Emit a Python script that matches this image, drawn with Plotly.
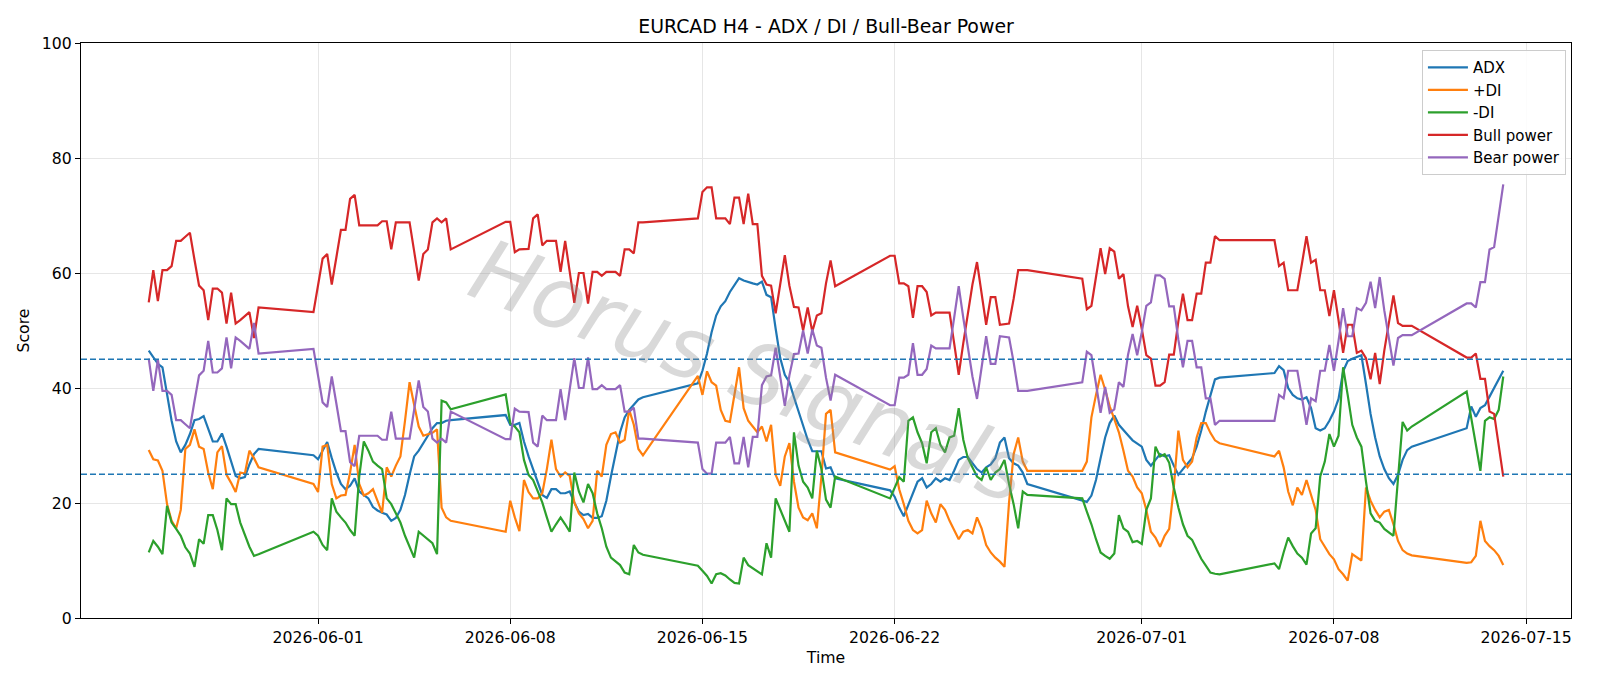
import pandas as pd
import plotly.graph_objects as go

# ---------------- data (H4 bars, weekend gaps) ----------------
all_times = pd.date_range("2026-05-25 20:00", "2026-07-14 04:00", freq="4h")
weekend = (all_times.dayofweek == 5) | ((all_times.dayofweek == 6) & (all_times.hour < 20))
times = all_times[~weekend]

adx = [
    # week 1
    46.5, 45.3, 44.2, 43.6, 38.8, 34.3, 30.7, 28.8, 30.1, 32.0, 34.4, 34.6, 35.1, 33.0, 30.7, 30.7, 32.1, 29.8, 27.2, 24.7, 24.3, 24.5, 26.7, 28.5, 29.4,
    # week 2
    28.3, 27.6, 29.2, 30.6, 27.8, 25.3, 23.3, 22.4, 23.0, 24.3, 22.0, 21.4, 20.8, 19.3, 18.7, 18.3, 18.0, 16.9, 17.4, 18.8, 21.4, 24.9, 28.1, 29.1, 30.3, 31.7, 33.0, 33.9, 33.9, 34.3, 34.4,
    # week 3
    35.3, 33.6, 33.6, 33.9, 30.7, 28.1, 25.9, 23.7, 21.4, 20.9, 22.4, 22.4, 21.7, 21.7, 22.0, 20.1, 18.5, 17.9, 18.1, 17.4, 17.4, 17.7, 20.4, 24.6, 28.8, 32.3, 34.9, 36.2, 37.1, 38.0, 38.4,
    # week 4
    40.8, 43.0, 46.0, 49.7, 52.6, 54.2, 55.1, 56.7, 58.0, 59.1, 58.7, 58.4, 58.2, 58.0, 58.5, 56.2, 55.8, 50.3, 45.2, 42.3, 41.0, 38.4, 35.9, 33.3, 31.0, 29.0, 29.0, 29.0, 26.0, 26.2, 24.3,
    # week 5
    22.2, 21.1, 19.2, 17.7, 19.8, 21.7, 23.7, 24.3, 22.7, 23.3, 24.3, 23.7, 24.3, 24.0, 25.6, 27.5, 28.0, 28.0, 26.9, 25.9, 25.3, 26.2, 26.7, 27.8, 30.5, 31.4, 27.8, 26.9, 26.5, 25.3, 23.3,
    # week 6
    20.4, 20.2, 21.3, 24.0, 27.8, 31.4, 33.9, 35.2, 33.6, 32.6, 31.8, 30.9, 30.3, 29.8, 27.5, 26.5, 27.5, 28.5, 28.1, 28.3, 26.5, 24.9, 25.9, 26.9, 27.8, 29.8, 32.6, 35.9, 38.9, 41.5, 41.8,
    # week 7
    42.6, 43.8, 43.1, 40.0, 38.8, 38.2, 38.0, 38.4, 36.5, 33.0, 32.6, 33.0, 34.3, 35.9, 38.1, 42.9, 44.7, 45.1, 45.4, 45.7, 40.7, 35.5, 31.4, 28.1, 25.9, 24.3, 23.3, 24.9, 27.5, 29.2, 29.8,
    # week 8
    33.0, 36.8, 35.0, 36.5, 37.0, 38.5, 40.0, 41.5, 43.0,
]

plus_di = [
    29.2, 27.6, 27.4, 25.6, 19.8, 16.9, 15.6, 18.8, 29.4, 30.1, 32.8, 29.8, 29.4, 25.3, 22.4, 28.8, 29.9, 24.9, 23.5, 21.9, 25.3, 25.1, 29.1, 27.8, 26.2,
    23.3, 21.9, 29.8, 30.1, 23.3, 20.8, 21.3, 21.4, 25.3, 30.1, 23.3, 21.3, 21.7, 22.4, 20.4, 18.3, 26.2, 24.6, 26.5, 28.1, 34.3, 41.0, 37.1, 33.3, 31.7, 32.0, 32.2, 32.8, 19.2, 17.5, 16.9,
    15.0, 20.4, 17.5, 15.1, 24.0, 21.9, 20.8, 20.8, 21.7, 25.9, 31.0, 25.9, 24.6, 25.3, 24.7, 20.1, 18.2, 17.2, 15.6, 16.9, 25.6, 24.6, 30.1, 32.0, 32.3, 30.5, 31.0, 36.2, 33.6, 29.4, 28.3,
    42.1, 38.8, 42.9, 41.0, 40.4, 36.2, 34.3, 34.1, 38.8, 43.6, 36.5, 34.3, 33.3, 32.3, 33.3, 30.7, 33.6, 24.9, 23.0, 28.1, 30.4, 23.7, 19.2, 17.5, 17.0, 18.2, 15.6, 24.6, 35.5, 36.2, 28.8,
    25.8, 26.4, 22.4, 19.8, 16.9, 15.3, 14.7, 15.3, 20.4, 18.2, 16.6, 19.8, 18.8, 16.9, 15.3, 13.7, 15.0, 15.3, 14.7, 17.5, 15.6, 12.7, 11.4, 10.5, 9.8, 8.9, 20.1, 28.5, 31.4, 27.2, 25.6,
    25.6, 27.2, 34.9, 38.8, 42.3, 39.7, 36.8, 34.6, 32.3, 29.1, 25.6, 24.6, 22.7, 21.7, 18.8, 15.0, 14.0, 12.4, 14.3, 15.5, 22.7, 32.6, 27.5, 26.2, 27.2, 31.4, 33.9, 33.9, 32.2, 30.9, 30.4,
    28.1, 29.1, 26.2, 22.0, 19.6, 22.7, 21.4, 24.0, 21.4, 18.8, 13.7, 12.4, 11.1, 10.2, 8.5, 7.6, 6.5, 11.1, 10.5, 10.0, 22.7, 20.4, 18.8, 17.5, 18.5, 18.8, 16.3, 13.4, 11.8, 11.2, 10.9,
    9.6, 9.7, 10.8, 16.9, 13.4, 12.5, 11.8, 10.8, 9.2,
]

minus_di = [
    11.4, 13.4, 12.4, 11.1, 19.5, 16.6, 15.5, 14.3, 12.3, 11.2, 8.9, 13.7, 12.9, 17.9, 17.9, 15.3, 11.8, 20.8, 19.8, 19.8, 16.6, 14.3, 12.4, 10.8, 11.1,
    15.0, 14.3, 12.7, 11.8, 20.8, 18.5, 17.5, 16.6, 15.3, 14.3, 24.6, 30.7, 29.1, 27.2, 26.5, 25.9, 20.8, 19.8, 18.2, 16.6, 14.3, 12.4, 10.5, 15.0, 14.3, 13.7, 13.0, 11.1, 37.8, 37.5, 36.3,
    38.9, 33.9, 33.3, 32.3, 27.5, 24.9, 24.0, 22.0, 20.1, 17.5, 15.0, 16.3, 17.5, 16.3, 15.0, 25.3, 22.0, 20.1, 23.3, 21.7, 18.2, 15.6, 12.4, 10.5, 9.8, 9.2, 7.9, 7.6, 12.7, 11.4, 11.0,
    9.1, 8.2, 7.3, 6.0, 7.6, 7.8, 7.4, 6.7, 6.1, 6.0, 10.5, 9.2, 8.7, 8.2, 7.6, 13.0, 10.5, 20.8, 18.8, 16.9, 15.0, 32.3, 26.5, 23.7, 22.7, 20.8, 29.1, 25.9, 20.6, 19.2, 24.6,
    20.8, 22.7, 24.5, 23.7, 34.3, 34.9, 32.3, 30.4, 26.9, 32.3, 33.0, 30.1, 28.8, 31.4, 31.7, 36.5, 31.0, 27.8, 26.2, 24.6, 24.0, 26.2, 24.0, 25.3, 25.9, 27.5, 23.3, 19.8, 15.6, 22.0, 21.4,
    20.8, 18.5, 16.3, 13.7, 11.4, 10.8, 10.3, 11.2, 17.9, 15.6, 15.0, 13.2, 13.4, 12.9, 18.8, 20.8, 29.8, 28.1, 28.5, 27.0, 22.7, 19.2, 16.3, 14.3, 13.6, 11.9, 10.3, 9.1, 7.9, 7.7, 7.6,
    9.5, 8.5, 11.4, 14.0, 12.5, 11.2, 10.5, 9.3, 14.7, 15.6, 24.6, 27.2, 32.0, 29.8, 31.7, 43.6, 38.8, 33.6, 31.4, 29.8, 23.7, 18.2, 16.9, 16.6, 15.5, 14.9, 14.3, 24.3, 34.1, 32.6, 33.3,
    39.4, 34.6, 30.0, 25.6, 34.3, 34.9, 34.6, 36.2, 42.0,
]

bull_power = [
    54.9, 60.5, 55.1, 60.5, 60.5, 61.2, 65.6, 65.6, 66.3, 67.0, 62.3, 57.8, 57.0, 51.8, 57.3, 57.3, 56.6, 51.2, 56.6, 51.2, 51.8, 52.5, 53.2, 48.7, 54.0,
    53.2, 58.0, 62.5, 63.3, 58.0, 62.7, 67.5, 67.5, 72.9, 73.6, 68.3, 68.3, 68.3, 68.3, 68.3, 69.0, 69.0, 64.1, 68.8, 68.8, 68.8, 68.8, 63.8, 58.7, 63.3, 64.1, 68.8, 69.5, 68.8, 69.5, 64.1,
    68.9, 68.9, 63.6, 64.1, 64.2, 64.2, 69.5, 70.2, 64.8, 65.6, 65.6, 65.6, 60.2, 65.6, 60.2, 54.8, 60.0, 60.0, 54.7, 60.2, 60.2, 59.5, 60.2, 60.2, 60.2, 59.5, 64.1, 64.1, 63.4, 68.8, 68.8,
    69.5, 74.1, 74.9, 74.9, 69.5, 69.5, 69.5, 68.5, 73.1, 73.1, 68.5, 73.8, 68.5, 68.5, 59.5, 58.0, 57.8, 53.0, 58.2, 63.1, 57.8, 54.1, 54.0, 50.0, 54.0, 49.8, 52.6, 53.0, 58.2, 62.2, 57.7,
    63.0, 63.0, 58.2, 58.2, 57.7, 52.2, 57.7, 57.7, 56.7, 52.6, 53.1, 53.1, 53.1, 53.1, 47.8, 42.3, 47.8, 52.9, 58.0, 61.9, 56.7, 51.0, 55.8, 55.8, 51.0, 51.1, 51.2, 55.5, 60.5, 60.5, 60.5,
    59.0, 53.7, 54.3, 59.3, 64.3, 59.8, 64.3, 63.7, 59.0, 59.8, 54.2, 50.6, 54.3, 50.3, 45.7, 45.1, 40.4, 40.4, 41.0, 45.8, 45.8, 51.6, 56.4, 51.8, 51.8, 56.4, 56.4, 61.8, 61.8, 66.4, 65.7,
    65.7, 61.2, 61.8, 57.0, 57.0, 57.0, 61.6, 66.4, 61.8, 62.3, 57.0, 57.0, 52.5, 57.0, 51.8, 46.1, 51.0, 51.0, 46.1, 46.5, 45.2, 41.5, 46.1, 40.7, 46.5, 51.3, 56.1, 51.3, 50.8, 50.8, 50.8,
    45.3, 45.3, 46.0, 41.6, 41.6, 35.9, 35.5, 30.1, 24.6,
]

bear_power = [
    45.1, 39.5, 44.9, 39.5, 39.5, 38.8, 34.4, 34.4, 33.7, 33.0, 37.7, 42.2, 43.0, 48.2, 42.7, 42.7, 43.4, 48.8, 43.4, 48.8, 48.2, 47.5, 46.8, 51.3, 46.0,
    46.8, 42.0, 37.5, 36.7, 42.0, 37.3, 32.5, 32.5, 27.1, 26.4, 31.7, 31.7, 31.7, 31.7, 31.7, 31.0, 31.0, 35.9, 31.2, 31.2, 31.2, 31.2, 36.2, 41.3, 36.7, 35.9, 31.2, 30.5, 31.2, 30.5, 35.9,
    31.1, 31.1, 36.4, 35.9, 35.8, 35.8, 30.5, 29.8, 35.2, 34.4, 34.4, 34.4, 39.8, 34.4, 39.8, 45.2, 40.0, 40.0, 45.3, 39.8, 39.8, 40.5, 39.8, 39.8, 39.8, 40.5, 35.9, 35.9, 36.6, 31.2, 31.2,
    30.5, 25.9, 25.1, 25.1, 30.5, 30.5, 30.5, 31.5, 26.9, 26.9, 31.5, 26.2, 31.5, 31.5, 40.5, 42.0, 42.2, 47.0, 41.8, 36.9, 42.2, 45.9, 46.0, 50.0, 46.0, 50.2, 47.4, 47.0, 41.8, 37.8, 42.3,
    37.0, 37.0, 41.8, 41.8, 42.3, 47.8, 42.3, 42.3, 43.3, 47.4, 46.9, 46.9, 46.9, 46.9, 52.2, 57.7, 52.2, 47.1, 42.0, 38.1, 43.3, 49.0, 44.2, 44.2, 49.0, 48.9, 48.8, 44.5, 39.5, 39.5, 39.5,
    41.0, 46.3, 45.7, 40.7, 35.7, 40.2, 35.7, 36.3, 41.0, 40.2, 45.8, 49.4, 45.7, 49.7, 54.3, 54.9, 59.6, 59.6, 59.0, 54.2, 54.2, 48.4, 43.6, 48.2, 48.2, 43.6, 43.6, 38.2, 38.2, 33.6, 34.3,
    34.3, 38.8, 38.2, 43.0, 43.0, 43.0, 38.4, 33.6, 38.2, 37.7, 43.0, 43.0, 47.5, 43.0, 48.2, 53.9, 49.0, 49.0, 53.9, 53.5, 54.8, 58.5, 53.9, 59.3, 53.5, 48.7, 43.9, 48.7, 49.2, 49.2, 49.2,
    54.7, 54.7, 54.0, 58.4, 58.4, 64.1, 64.5, 69.9, 75.4,
]

series_names = ["ADX", "+DI", "-DI", "Bull power", "Bear power"]
series_colors = ["#1f77b4", "#ff7f0e", "#2ca02c", "#d62728", "#9467bd"]
threshold_levels = [45, 25]
tick_dates = ["2026-06-01", "2026-06-08", "2026-06-15", "2026-06-22", "2026-07-01", "2026-07-08", "2026-07-15"]

for s in (adx, plus_di, minus_di, bull_power, bear_power):
    assert len(s) == len(times), (len(s), len(times))

# ---------------- figure ----------------
FONT = "DejaVu Sans"
fig = go.Figure()
for name, vals, color in zip(series_names, [adx, plus_di, minus_di, bull_power, bear_power], series_colors):
    fig.add_trace(go.Scatter(x=times, y=vals, mode="lines", name=name,
                             line=dict(color=color, width=2.2)))

for lvl in threshold_levels:
    fig.add_hline(y=lvl, line=dict(color="#1f77b4", width=1.5, dash="6px,3px"))

pad = (times[-1] - times[0]) * 0.05
x_range = [times[0] - pad, times[-1] + pad]

axis_common = dict(
    showgrid=True, gridcolor="#e6e6e6", gridwidth=1,
    showline=True, mirror=True, linecolor="black", linewidth=1.2,
    ticks="outside", ticklen=5, tickwidth=1.2, tickcolor="black",
    tickfont=dict(family=FONT, size=15.7, color="black"),
    zeroline=False,
)

fig.update_layout(
    width=1600, height=686,
    margin=dict(l=81, r=29, t=43, b=68),
    paper_bgcolor="white", plot_bgcolor="white",
    font=dict(family=FONT, size=15.7, color="black"),
    title=dict(text="EURCAD H4 - ADX / DI / Bull-Bear Power", x=0.5, xref="paper", xanchor="center",
               y=1 - 26.5 / 686, yref="container", yanchor="middle",
               font=dict(family=FONT, size=18.9, color="black")),
    xaxis=dict(axis_common, type="date", range=x_range,
               tickvals=tick_dates, ticktext=tick_dates,
               title=dict(text="Time", font=dict(family=FONT, size=15.7), standoff=6)),
    yaxis=dict(axis_common, range=[0, 100], tick0=0, dtick=20,
               title=dict(text="Score", font=dict(family=FONT, size=15.7), standoff=8)),
    legend=dict(x=0.9966, y=0.9875, xanchor="right", yanchor="top",
                bgcolor="rgba(255,255,255,0.85)", bordercolor="#cccccc", borderwidth=1,
                font=dict(family=FONT, size=15, color="black"), tracegroupgap=0,
                itemwidth=40),
    showlegend=True,
)

fig.add_annotation(
    text="Horus Signals", xref="paper", yref="paper", x=0.449, y=0.43,
    showarrow=False, textangle=21,
    font=dict(family=FONT, size=86, color="rgba(140,140,140,0.33)", style="italic"),
)

fig.write_html("out.html")
